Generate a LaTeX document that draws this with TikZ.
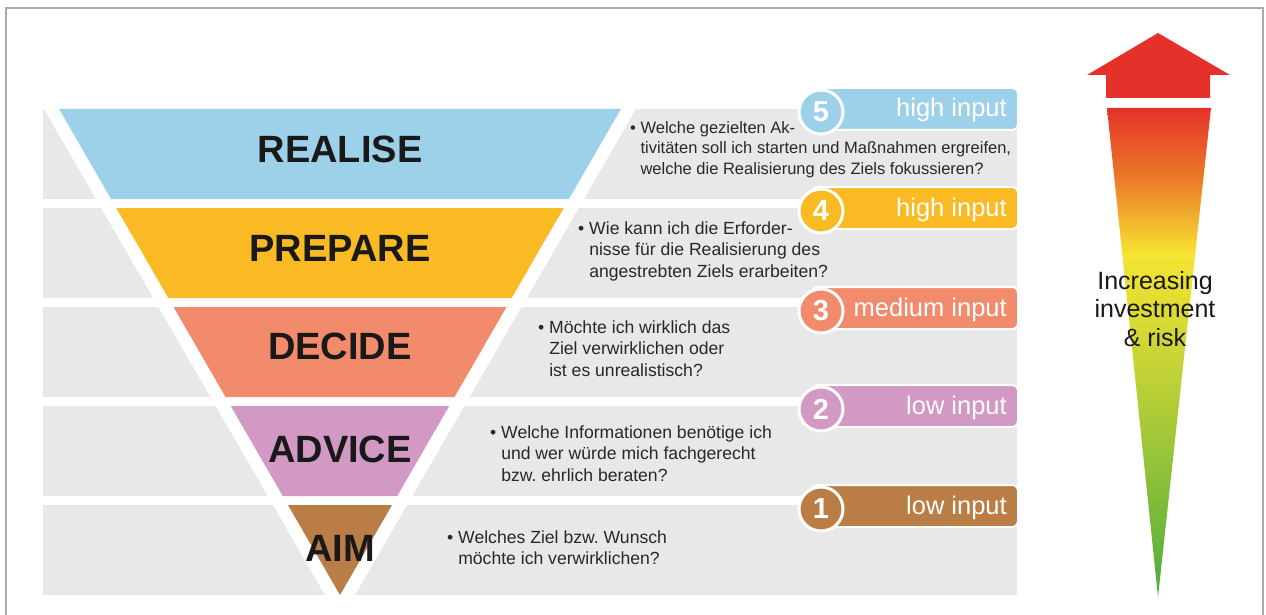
\documentclass[tikz,border=0pt]{standalone}
\usepackage{fontspec}
\setmainfont{Liberation Sans}
\frenchspacing
\definecolor{bandgray}{RGB}{232,232,232}
\definecolor{framegray}{RGB}{170,170,170}
\definecolor{realblue}{RGB}{157,209,234}
\definecolor{prepyellow}{RGB}{249,186,35}
\definecolor{decsalmon}{RGB}{242,139,108}
\definecolor{advlilac}{RGB}{209,153,196}
\definecolor{aimbrown}{RGB}{186,125,70}
\definecolor{titleblack}{RGB}{25,25,25}
\definecolor{bodytext}{RGB}{40,40,40}
\definecolor{rred}{RGB}{228,50,42}
\definecolor{rorange}{RGB}{236,120,40}
\definecolor{ryellow}{RGB}{246,228,50}
\definecolor{rlime}{RGB}{180,205,55}
\definecolor{rgreen}{RGB}{78,172,60}
\pgfdeclareverticalshading{riskgrad}{100bp}{color(0bp)=(rgreen); color(25bp)=(rgreen); color(45bp)=(rlime); color(60bp)=(ryellow); color(68bp)=(rorange); color(75bp)=(rred); color(100bp)=(rred)}
\begin{document}
\begin{tikzpicture}[x=1pt,y=-1pt,
  title/.style={font=\bfseries\fontsize{38}{40}\selectfont, text=titleblack, inner sep=0},
  body/.style={font=\fontsize{17.6}{21.5}\selectfont, text=bodytext, align=left, inner sep=0, anchor=north west},
  bodysmall/.style={body, font=\fontsize{16.5}{20.5}\selectfont},
  pillbar/.style={rounded corners=6, draw=white, line width=2},
  pillcirc/.style={circle, draw=white, line width=3, minimum size=44, inner sep=0, text=white, font=\bfseries\fontsize{29}{29}\selectfont},
  pilltext/.style={anchor=base east, inner sep=0, text=white, font=\fontsize{25.5}{25.5}\selectfont},
  risktext/.style={align=center, inner sep=0, text=titleblack, font=\fontsize{25}{28.5}\selectfont}
]
\useasboundingbox (0,0) rectangle (1266,615);
\fill[white] (0,0) rectangle (1266,615);
% frame
\draw[framegray, line width=2.5] (6,630) -- (6,8) -- (1263,8) -- (1263,630);
% gray bands
\foreach \t/\b in {109/199, 208/298, 307/397, 406/496, 505/595}
  \fill[bandgray] (43,\t) rectangle (1017,\b);
% white stripe around funnel
\fill[white] ({340-(621-100)*0.578},100) -- ({340+(621-100)*0.578},100) -- (340,621) -- cycle;
% funnel pieces
\foreach \t/\b/\c in {109/199/realblue, 208/298/prepyellow, 307/397/decsalmon, 406/496/advlilac, 505/595/aimbrown}
  \fill[\c] ({340-(595-\t)*0.578},\t) -- ({340+(595-\t)*0.578},\t) -- ({340+(595-\b)*0.578},\b) -- ({340-(595-\b)*0.578},\b) -- cycle;
% titles
\node[title] (realise) at (340,149) {REALISE};
\node[title] (prepare) at (340,248) {PREPARE};
\node[title] (decide) at (340,346) {DECIDE};
\node[title] (advice) at (340,449) {ADVICE};
\node[title] (aim) at (340,548) {AIM};
% questions
\node[bodysmall] (q5) at (630,121) {• Welche gezielten Ak-\\\hphantom{• }tivitäten soll ich starten und Maßnahmen ergreifen,\\\hphantom{• }welche die Realisierung des Ziels fokussieren?};
\node[body] (q4) at (578,221.5) {• Wie kann ich die Erforder-\\\hphantom{• }nisse für die Realisierung des\\\hphantom{• }angestrebten Ziels erarbeiten?};
\node[body] (q3) at (538,320.5) {• Möchte ich wirklich das\\\hphantom{• }Ziel verwirklichen oder\\\hphantom{• }ist es unrealistisch?};
\node[body] (q2) at (490,425.5) {• Welche Informationen benötige ich\\\hphantom{• }und wer würde mich fachgerecht\\\hphantom{• }bzw. ehrlich beraten?};
\node[body] (q1) at (447,530.5) {• Welches Ziel bzw. Wunsch\\\hphantom{• }möchte ich verwirklichen?};
% pills
\foreach \n/\y/\c/\l in {5/109/realblue/high input, 4/208/prepyellow/high input, 3/308/decsalmon/medium input, 2/406/advlilac/low input, 1/506/aimbrown/low input}{
  \draw[pillbar, fill=\c] (812,\y-21) rectangle (1018,\y+21);
  \node[pillcirc, fill=\c] (c\n) at (821,\y+3) {\n};
  \node[pilltext] (l\n) at (1007,\y+8) {\l};
}
% risk arrow
\fill[rred] (1087,75) -- (1158,33) -- (1230,75) -- (1210,75) -- (1210,98) -- (1106,98) -- (1106,75) -- cycle;
\shade[shading=riskgrad] (1107,108) -- (1211,108) -- (1158,597) -- cycle;
\node[risktext] (risk) at (1155,309) {Increasing\\investment\\\& risk};
\end{tikzpicture}
\end{document}
